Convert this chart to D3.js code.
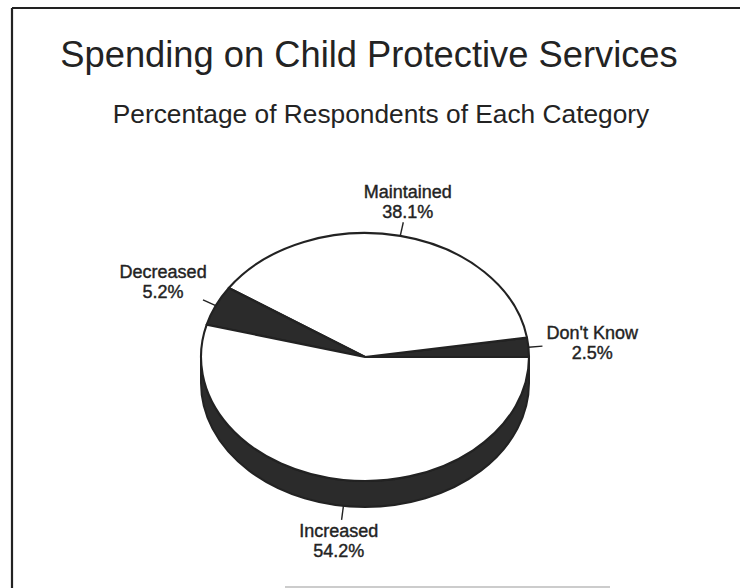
<!DOCTYPE html>
<html>
<head>
<meta charset="utf-8">
<script src="https://cdn.jsdelivr.net/npm/d3@7"></script>
<style>
  html, body { margin: 0; padding: 0; background: #fff; }
  svg { display: block; }
  text { font-family: "Liberation Sans", Arial, Helvetica, sans-serif; fill: #232323; }
</style>
</head>
<body>
<svg id="chart" width="740" height="588"></svg>
<script>
// Survey responses, counter-clockwise from the 3 o'clock position
const categories = ["Don't Know", "Maintained", "Decreased", "Increased"];
const percents = [2.5, 38.1, 5.2, 54.2];

const titleText = "Spending on Child Protective Services";
const subtitleText = "Percentage of Respondents of Each Category";

const W = 740, H = 588;
const cx = 365, cy = 357;      // centre of the top face
const rx = 164, ry = 124;      // radii of the tilted disc
const depth = 26;              // thickness of the disc
const leader = 14;             // leader-line length
const dark = "#2b2b2b";
const ink = "#222";

const shade = d3.scaleOrdinal()
  .domain(categories)
  .range([dark, "#ffffff", dark, "#ffffff"]);

const svg = d3.select("#chart");

// frame
svg.append("line").attr("x1", 12).attr("y1", 8).attr("x2", W).attr("y2", 8)
  .attr("stroke", ink).attr("stroke-width", 2.2);
svg.append("line").attr("x1", 12).attr("y1", 8).attr("x2", 12).attr("y2", H)
  .attr("stroke", ink).attr("stroke-width", 2.2);
svg.append("line").attr("x1", 285).attr("y1", 587).attr("x2", 610).attr("y2", 587)
  .attr("stroke", "#bbb").attr("stroke-width", 1.5);

// titles
svg.append("text").attr("x", 369).attr("y", 67).attr("text-anchor", "middle")
  .style("font-size", "36.3px").text(titleText);
svg.append("text").attr("x", 381).attr("y", 123).attr("text-anchor", "middle")
  .style("font-size", "26.3px").text(subtitleText);

const data = categories.map((c, i) => ({ category: c, value: percents[i] }));

// angles are read counter-clockwise from the positive x axis
const pie = d3.pie().sort(null).value(d => d.value).startAngle(0).endAngle(2 * Math.PI);
const arcs = pie(data);

const px = t => cx + rx * Math.cos(t);
const py = t => cy - ry * Math.sin(t);

// visible side wall (front half of the disc)
svg.append("path")
  .attr("d",
    `M${px(Math.PI)},${py(Math.PI)}` +
    `A${rx},${ry} 0 0 0 ${px(2 * Math.PI)},${py(2 * Math.PI)}` +
    `L${px(2 * Math.PI)},${py(2 * Math.PI) + depth}` +
    `A${rx},${ry} 0 0 1 ${px(Math.PI)},${py(Math.PI) + depth}Z`)
  .attr("fill", dark)
  .attr("stroke", ink)
  .attr("stroke-width", 2)
  .attr("stroke-linejoin", "round");

// top face slices
svg.append("g").selectAll("path")
  .data(arcs)
  .join("path")
  .attr("d", a => {
    const large = (a.endAngle - a.startAngle) > Math.PI ? 1 : 0;
    return `M${cx},${cy}L${px(a.startAngle)},${py(a.startAngle)}` +
      `A${rx},${ry} 0 ${large} 0 ${px(a.endAngle)},${py(a.endAngle)}Z`;
  })
  .attr("fill", a => shade(a.data.category))
  .attr("stroke", ink)
  .attr("stroke-width", 2.1)
  .attr("stroke-linejoin", "round");

// leader lines and labels
const fmt = d3.format(".1f");
const fontSize = 18, lineGap = 20, capH = 13;
const labels = svg.append("g");

arcs.forEach(a => {
  const mid = (a.startAngle + a.endAngle) / 2;
  const ux = Math.cos(mid), uy = -Math.sin(mid);
  const drop = uy > 0.5 ? depth : 0;   // front-facing labels start below the wall
  const x0 = px(mid), y0 = py(mid) + drop;
  const x1 = cx + (rx + leader) * ux, y1 = cy + (ry + leader) * uy + drop;

  labels.append("line")
    .attr("x1", x0).attr("y1", y0).attr("x2", x1).attr("y2", y1)
    .attr("stroke", ink).attr("stroke-width", 1.4);

  const g = labels.append("g");
  const t1 = g.append("text").attr("text-anchor", "middle")
    .style("font-size", fontSize + "px").style("stroke", "#232323").style("stroke-width", 0.4)
    .text(a.data.category);
  const t2 = g.append("text").attr("text-anchor", "middle")
    .style("font-size", fontSize + "px").style("stroke", "#232323").style("stroke-width", 0.4)
    .text(fmt(a.data.value) + "%");

  const w = Math.max(t1.node().getComputedTextLength(), t2.node().getComputedTextLength());
  const h = capH + lineGap;
  const s = Math.min(
    Math.abs(ux) > 1e-6 ? (w / 2) / Math.abs(ux) : Infinity,
    Math.abs(uy) > 1e-6 ? (h / 2) / Math.abs(uy) : Infinity);
  const bx = x1 + ux * (s + 4);
  const by = y1 + uy * (s + 4);

  t1.attr("x", bx).attr("y", by - h / 2 + capH);
  t2.attr("x", bx).attr("y", by - h / 2 + capH + lineGap);
});
</script>
</body>
</html>
